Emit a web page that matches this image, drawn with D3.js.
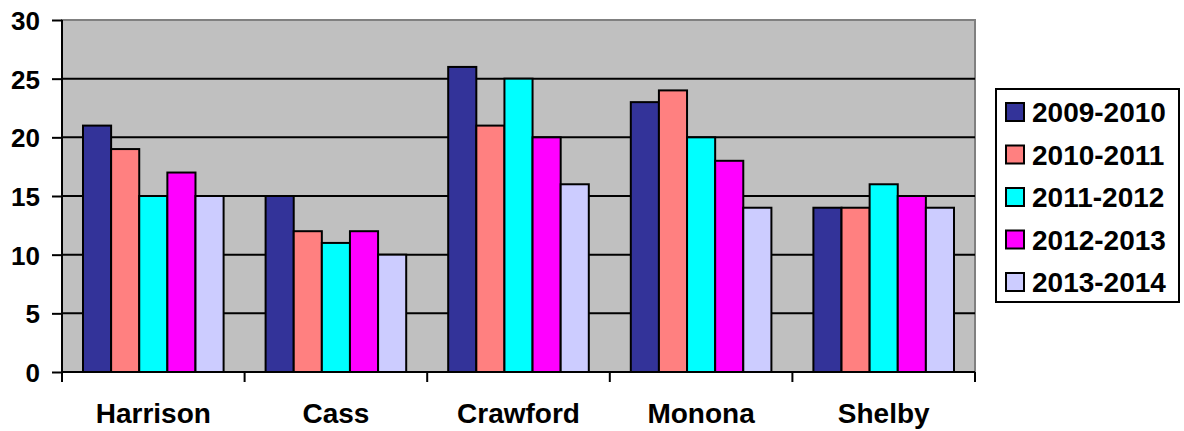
<!DOCTYPE html>
<html>
<head>
<meta charset="utf-8">
<script src="https://cdn.jsdelivr.net/npm/d3@7"></script>
<style>
  body { margin: 0; background: #fff; overflow: hidden; }
  svg { display: block; }
  text { font-family: "Liberation Sans", Arial, sans-serif; font-weight: bold; fill: #000; }
</style>
</head>
<body>
<div id="chart"></div>
<script>
const counties = ['Harrison', 'Cass', 'Crawford', 'Monona', 'Shelby'];
const seasons = ['2009-2010', '2010-2011', '2011-2012', '2012-2013', '2013-2014'];
const colors = ['#333399', '#FF8080', '#00FFFF', '#FF00FF', '#CCCCFF'];
// one array per season, in county order
const s0910 = [21, 15, 26, 23, 14];
const s1011 = [19, 12, 21, 24, 14];
const s1112 = [15, 11, 25, 20, 16];
const s1213 = [17, 12, 20, 18, 15];
const s1314 = [15, 10, 16, 14, 14];
const series = [s0910, s1011, s1112, s1213, s1314];
const yTicks = [0, 5, 10, 15, 20, 25, 30];

const W = 1184, H = 431;
const margin = {t:20, r:209, b:59, l:62};
const innerWidth = W - margin.l - margin.r;
const innerHeight = H - margin.t - margin.b;

const scaleX = d3.scaleBand().domain(counties).range([0, innerWidth]).paddingInner(0.23).paddingOuter(0.115);
const scaleSub = d3.scaleBand().domain(seasons).range([0, scaleX.bandwidth()]);
const scaleY = d3.scaleLinear().domain([0, 30]).range([innerHeight, 0]);

const svg = d3.select('#chart').append('svg')
  .attr('width', W).attr('height', H);
const plot = svg.append('g')
  .attr('transform', `translate(${margin.l}, ${margin.t})`);

// plot area
plot.append('rect')
  .attr('width', innerWidth).attr('height', innerHeight)
  .style('fill', '#C0C0C0').style('stroke', '#808080').style('stroke-width', 2);

// gridlines
plot.append('g').selectAll('line')
  .data(yTicks.filter(d => d > 0 && d < 30))
  .join('line')
  .attr('x1', 0).attr('x2', innerWidth)
  .attr('y1', d => scaleY(d)).attr('y2', d => scaleY(d))
  .style('stroke', '#000').style('stroke-width', 2);

// bars
const rows = [];
counties.forEach((c, i) => seasons.forEach((s, j) => rows.push({county: c, season: s, j, value: series[j][i]})));
plot.append('g').selectAll('rect')
  .data(rows)
  .join('rect')
  .attr('x', d => scaleX(d.county) + scaleSub(d.season))
  .attr('y', d => scaleY(d.value))
  .attr('width', scaleSub.bandwidth())
  .attr('height', d => innerHeight - scaleY(d.value))
  .style('fill', d => colors[d.j])
  .style('stroke', '#000').style('stroke-width', 2);

// y axis
const axisY = d3.axisLeft(scaleY).tickValues(yTicks).tickSize(10).tickPadding(12);
const gy = plot.append('g').call(axisY);
gy.select('.domain').remove();
gy.append('line').attr('x1', 0).attr('x2', 0).attr('y1', 0).attr('y2', innerHeight)
  .style('stroke', '#000').style('stroke-width', 2);
gy.selectAll('.tick line').style('stroke', '#000').style('stroke-width', 2);
gy.selectAll('.tick text').style('font-size', '26px').attr('dy', '0.36em')
  .style('font-family', '"Liberation Sans", Arial, sans-serif').style('font-weight', 'bold');

// x axis
const gx = plot.append('g').attr('transform', `translate(0, ${innerHeight})`);
gx.append('line').attr('x1', 0).attr('x2', innerWidth)
  .style('stroke', '#000').style('stroke-width', 2);
const step = innerWidth / counties.length;
gx.selectAll('.sep')
  .data(d3.range(counties.length + 1))
  .join('line')
  .attr('class', 'sep')
  .attr('x1', d => d * step).attr('x2', d => d * step)
  .attr('y1', 0).attr('y2', 10)
  .style('stroke', '#000').style('stroke-width', 2);
gx.selectAll('.lab')
  .data(counties)
  .join('text')
  .attr('class', 'lab')
  .attr('x', d => scaleX(d) + scaleX.bandwidth() / 2)
  .attr('y', 51)
  .attr('text-anchor', 'middle')
  .style('font-size', '28px')
  .text(d => d);

// legend
const legend = svg.append('g').attr('transform', 'translate(996, 89)');
legend.append('rect')
  .attr('width', 183).attr('height', 213)
  .style('fill', '#fff').style('stroke', '#000').style('stroke-width', 2);
const item = legend.selectAll('.item')
  .data(seasons)
  .join('g')
  .attr('class', 'item')
  .attr('transform', (d, i) => `translate(0, ${23 + i * 42.5})`);
item.append('rect')
  .attr('x', 10).attr('y', -9).attr('width', 18).attr('height', 18)
  .style('fill', (d, i) => colors[i]).style('stroke', '#000').style('stroke-width', 2);
item.append('text')
  .attr('x', 36).attr('y', 0).attr('dy', '0.36em')
  .style('font-size', '28px')
  .text(d => d);
</script>
</body>
</html>
